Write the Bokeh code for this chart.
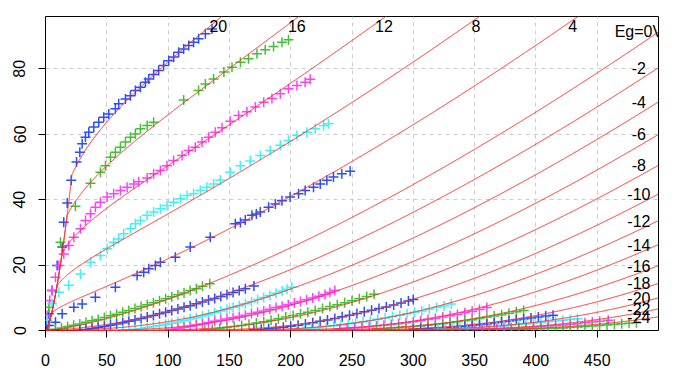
import math
import numpy as np
from bokeh.plotting import figure
from bokeh.models import Range1d, FixedTicker
from bokeh.core.properties import value
from bokeh.embed import file_html
from bokeh.resources import INLINE

# ---------------- axes ----------------
x_ticks = [0, 50, 100, 150, 200, 250, 300, 350, 400, 450]
y_ticks = [0, 20, 40, 60, 80]

# ---------------- model curves (grid voltages) ----------------
eg_curves = [20, 16, 12, 8, 4, 0, -2, -4, -6, -8, -10, -12, -14, -16, -18, -20, -22, -24]
# fitted triode-model parameters
MU, KP, KVB, EX, KA = 22.39, 115.0, 11000.0, 1.4, 1.178
KD, GC, GP = 0.475, 0.356, 0.4

top_labels = ["20", "16", "12", "8", "4"]
top_label_x = [141, 205, 276, 351, 430]
top_label_y = [93, 93, 93, 93, 93]
right_labels = ["Eg=0V", "-2", "-4", "-6", "-8", "-10", "-12", "-14", "-16", "-18", "-20", "-22", "-24"]
right_eg = [0, -2, -4, -6, -8, -10, -12, -14, -16, -18, -20, -22, -24]

# ---------------- measured points ----------------
ep_p20 = [0.8, 2.7, 5.4, 9.5, 13.6, 14.9, 17.7, 21.0, 25.3, 28.0, 29.9, 32.6, 35.3, 39.4, 43.4, 47.5, 51.6, 57.0, 59.7, 65.2, 69.3, 73.3, 77.4, 81.5, 84.2, 88.2, 92.3, 96.4, 100.5, 104.6, 108.6, 112.7, 116.8, 120.8, 124.9, 130.4, 135.8]
ip_p20 = [1.5, 5.1, 12.2, 19.9, 25.5, 33.1, 39.0, 45.9, 51.5, 54.5, 57.1, 59.1, 60.6, 62.2, 63.7, 65.2, 66.2, 67.8, 69.3, 70.8, 71.8, 73.4, 74.4, 75.9, 76.9, 78.3, 79.5, 81.0, 82.5, 83.6, 85.1, 86.1, 87.1, 88.1, 89.2, 90.7, 92.2]

ep_p16 = [2.7, 12.2, 24.4, 36.7, 44.8, 48.9, 53.0, 57.0, 61.1, 65.2, 69.3, 73.3, 77.4, 82.9, 88.2, 112.7, 124.9, 130.4, 137.1, 145.5, 152.1, 159.0, 165.6, 172.5, 179.2, 186.0, 192.9, 198.2]
ip_p16 = [7.1, 27.0, 38.0, 45.0, 48.4, 50.4, 53.0, 54.5, 56.0, 57.6, 59.1, 60.1, 61.7, 62.7, 63.7, 70.5, 73.4, 75.4, 76.9, 79.0, 80.5, 82.0, 83.1, 84.6, 85.8, 86.8, 88.1, 88.9]

ep_p12 = [1.4, 3.5, 5.5, 8.1, 10.9, 14.9, 19.0, 23.1, 28.5, 32.6, 36.7, 40.7, 44.8, 50.3, 55.6, 61.1, 66.6, 72.0, 76.0, 82.9, 88.2, 93.7, 99.1, 104.5, 111.4, 116.8, 122.2, 127.7, 133.1, 138.5, 144.0, 150.7, 157.5, 164.3, 171.2, 178.0, 184.7, 191.5, 198.2, 205.1, 211.8, 215.9]
ip_p12 = [4.6, 9.2, 12.2, 16.3, 19.9, 23.4, 26.0, 28.5, 31.1, 33.6, 35.7, 37.7, 39.2, 40.8, 41.8, 42.8, 43.8, 44.8, 45.5, 46.6, 47.9, 48.9, 50.4, 52.0, 53.5, 55.0, 56.0, 57.6, 59.1, 60.6, 62.0, 64.0, 65.7, 66.9, 68.3, 69.8, 70.9, 72.4, 73.9, 74.9, 75.9, 76.8]

ep_p8 = [1.4, 5.5, 10.9, 19.0, 28.5, 36.7, 44.8, 50.3, 55.6, 59.7, 63.8, 69.3, 73.3, 77.4, 82.9, 88.2, 93.7, 99.1, 104.5, 110.0, 115.5, 120.8, 126.3, 131.7, 137.1, 142.6, 150.7, 158.9, 167.0, 175.2, 183.3, 191.5, 198.2, 205.1, 213.2, 220.0, 226.8, 230.8]
ip_p8 = [3.1, 8.2, 11.7, 13.8, 17.3, 20.9, 22.9, 25.0, 27.0, 28.0, 29.6, 31.1, 32.6, 33.6, 35.2, 36.2, 37.2, 38.2, 39.2, 40.3, 41.3, 41.8, 42.8, 43.8, 44.8, 46.0, 48.4, 50.4, 51.8, 53.5, 55.0, 56.6, 58.1, 59.6, 60.6, 61.7, 62.7, 63.2]

ep_p4 = [2.7, 8.1, 13.6, 23.1, 29.9, 40.7, 57.0, 74.7, 80.1, 84.2, 89.6, 93.7, 105.9, 118.1, 134.4, 154.8, 159.0, 163.0, 168.4, 172.0, 175.2, 182.0, 187.5, 192.9, 199.5, 206.4, 211.8, 218.6, 224.1, 229.5, 234.9, 241.7, 248.5]
ip_p4 = [1.5, 2.5, 5.1, 7.1, 8.1, 10.2, 13.2, 16.8, 17.8, 18.9, 19.9, 20.9, 22.4, 25.5, 28.5, 32.6, 33.0, 33.8, 35.2, 35.6, 36.2, 37.7, 38.7, 39.7, 40.8, 41.8, 42.8, 43.8, 44.8, 45.9, 46.9, 47.9, 48.7]

ep_0 = [3, 8, 13, 18, 23, 28, 33, 38, 43, 48, 53, 58, 63, 68, 73, 78, 83, 88, 93, 98, 103, 108, 113, 118, 123, 128, 134]
ip_0 = [0.1, 0.4, 0.8, 1.2, 1.6, 2.0, 2.5, 3.0, 3.4, 4.0, 4.5, 5.0, 5.6, 6.1, 6.7, 7.3, 7.9, 8.5, 9.1, 9.7, 10.3, 10.9, 11.5, 12.2, 12.8, 13.5, 14.3]

ep_m2 = [28, 33, 38, 43, 48, 53, 58, 63, 68, 73, 78, 83, 88, 93, 98, 103, 108, 113, 118, 123, 128, 133, 138, 143, 148, 153, 158, 163, 170]
ip_m2 = [0.1, 0.3, 0.6, 0.9, 1.2, 1.6, 2.0, 2.4, 2.8, 3.2, 3.7, 4.1, 4.6, 5.1, 5.6, 6.1, 6.6, 7.1, 7.6, 8.2, 8.7, 9.3, 9.8, 10.4, 11.0, 11.6, 12.2, 12.8, 13.6]

ep_m4 = [63, 68, 73, 78, 83, 88, 93, 98, 103, 108, 113, 118, 123, 128, 133, 138, 143, 148, 153, 158, 163, 168, 173, 178, 183, 188, 193, 197, 201]
ip_m4 = [0.05, 0.2, 0.4, 0.6, 0.9, 1.2, 1.5, 1.9, 2.2, 2.6, 3.0, 3.5, 3.9, 4.4, 4.9, 5.4, 6.0, 6.5, 7.1, 7.6, 8.2, 8.8, 9.5, 10.1, 10.7, 11.4, 12.1, 12.6, 13.2]

ep_m6 = [98, 103, 108, 113, 118, 123, 128, 133, 138, 143, 148, 153, 158, 163, 168, 173, 178, 183, 188, 193, 198, 203, 208, 213, 218, 223, 228, 232, 236]
ip_m6 = [0.1, 0.4, 0.7, 1.0, 1.3, 1.7, 2.0, 2.4, 2.8, 3.1, 3.5, 3.9, 4.3, 4.7, 5.2, 5.6, 6.0, 6.5, 7.0, 7.4, 7.9, 8.4, 8.9, 9.4, 9.9, 10.5, 11.0, 11.6, 12.2]

ep_m8 = [130, 136, 142, 148, 154, 160, 166, 172, 178, 184, 190, 196, 202, 208, 214, 220, 226, 232, 238, 244, 250, 256, 262, 268]
ip_m8 = [0.2, 0.4, 0.6, 0.9, 1.2, 1.5, 1.9, 2.3, 2.7, 3.1, 3.6, 4.1, 4.6, 5.1, 5.6, 6.1, 6.7, 7.3, 7.9, 8.5, 9.1, 9.7, 10.4, 11.1]

ep_m10 = [170, 176, 182, 188, 194, 200, 206, 212, 218, 224, 230, 236, 242, 248, 254, 260, 266, 272, 278, 284, 290, 296, 300]
ip_m10 = [0.2, 0.4, 0.6, 0.8, 1.0, 1.3, 1.6, 2.0, 2.4, 2.8, 3.2, 3.7, 4.2, 4.7, 5.2, 5.7, 6.2, 6.7, 7.2, 7.8, 8.4, 9.0, 9.5]

ep_m12 = [205, 211, 217, 223, 229, 235, 241, 247, 253, 259, 265, 271, 277, 283, 289, 295, 301, 307, 313, 319, 325, 331]
ip_m12 = [0.4, 0.55, 0.75, 0.95, 1.2, 1.45, 1.75, 2.05, 2.35, 2.7, 3.05, 3.45, 3.85, 4.25, 4.7, 5.1, 5.55, 6.0, 6.5, 7.0, 7.5, 8.1]

ep_m14 = [240, 246, 252, 258, 264, 270, 276, 282, 288, 294, 300, 306, 312, 318, 324, 330, 336, 342, 348, 354, 360]
ip_m14 = [0.55, 0.65, 0.8, 0.95, 1.15, 1.35, 1.6, 1.85, 2.1, 2.4, 2.7, 3.0, 3.35, 3.7, 4.1, 4.5, 4.9, 5.4, 5.9, 6.4, 7.0]

ep_m16 = [270, 276, 282, 288, 294, 300, 306, 312, 318, 324, 330, 336, 342, 348, 354, 360, 366, 372, 378, 384, 390]
ip_m16 = [0.5, 0.6, 0.75, 0.9, 1.05, 1.2, 1.4, 1.6, 1.85, 2.1, 2.4, 2.7, 3.0, 3.3, 3.7, 4.05, 4.45, 4.85, 5.3, 5.7, 6.1]

ep_m18 = [300, 306, 312, 318, 324, 330, 336, 342, 348, 354, 360, 366, 372, 378, 384, 390, 396, 402, 408, 414]
ip_m18 = [0.4, 0.5, 0.6, 0.7, 0.8, 0.95, 1.1, 1.3, 1.5, 1.75, 2.0, 2.3, 2.6, 2.9, 3.2, 3.5, 3.8, 4.1, 4.4, 4.7]

ep_m20 = [320, 326, 332, 338, 344, 350, 356, 362, 368, 374, 380, 386, 392, 398, 404, 410, 416, 422, 428, 434]
ip_m20 = [0.4, 0.45, 0.5, 0.6, 0.7, 0.8, 0.95, 1.1, 1.25, 1.4, 1.6, 1.8, 2.0, 2.2, 2.4, 2.65, 2.9, 3.1, 3.35, 3.6]

ep_m22 = [350, 356, 362, 368, 374, 380, 386, 392, 398, 404, 410, 416, 422, 428, 434, 440, 446, 452, 459]
ip_m22 = [0.3, 0.35, 0.4, 0.5, 0.6, 0.7, 0.8, 0.95, 1.1, 1.25, 1.4, 1.55, 1.7, 1.9, 2.1, 2.35, 2.6, 2.85, 3.1]

ep_m24 = [380, 386, 392, 398, 404, 410, 416, 422, 428, 434, 440, 446, 452, 458, 464, 470, 476, 482]
ip_m24 = [0.3, 0.35, 0.4, 0.45, 0.5, 0.6, 0.7, 0.8, 0.9, 1.05, 1.2, 1.35, 1.5, 1.7, 1.9, 2.05, 2.2, 2.35]

BLUE, GREEN, MAGENTA, CYAN = "#2a4dff", "#45c035", "#ff40ff", "#40f2f2"
series = [
    (ep_p20, ip_p20, BLUE), (ep_p16, ip_p16, GREEN), (ep_p12, ip_p12, MAGENTA),
    (ep_p8, ip_p8, CYAN), (ep_p4, ip_p4, BLUE), (ep_0, ip_0, GREEN),
    (ep_m2, ip_m2, BLUE), (ep_m4, ip_m4, CYAN), (ep_m6, ip_m6, MAGENTA),
    (ep_m8, ip_m8, GREEN), (ep_m10, ip_m10, BLUE), (ep_m12, ip_m12, CYAN),
    (ep_m14, ip_m14, MAGENTA), (ep_m16, ip_m16, GREEN), (ep_m18, ip_m18, BLUE),
    (ep_m20, ip_m20, CYAN), (ep_m22, ip_m22, MAGENTA), (ep_m24, ip_m24, GREEN),
]


def plate_current(eg, ep):
    ep = np.asarray(ep, dtype=float)
    if eg > 0:
        eff = eg * (1.0 - GC * (eg / ep) ** GP)
        e1 = np.maximum(ep / MU + eff, 0.0)
        return np.minimum(KD * ep ** 1.5, KA * e1 ** EX)
    z = KP * (1.0 / MU + eg / np.sqrt(KVB + ep ** 2))
    e1 = ep / KP * np.logaddexp(0.0, z)
    return KA * e1 ** EX


p = figure(frame_width=613, frame_height=314,
           x_range=Range1d(0, 500), y_range=Range1d(0, 96),
           output_backend="svg", toolbar_location=None,
           min_border_left=45, min_border_right=14,
           min_border_top=16, min_border_bottom=46)
p.background_fill_color = "white"
p.border_fill_color = "white"
p.outline_line_color = "black"
p.outline_line_width = 1

p.xaxis.ticker = FixedTicker(ticks=x_ticks)
p.yaxis.ticker = FixedTicker(ticks=y_ticks)
for ax in (p.xaxis[0], p.yaxis[0]):
    ax.axis_line_color = None
    ax.major_tick_in = 0
    ax.major_tick_out = 7
    ax.major_tick_line_color = "black"
    ax.minor_tick_line_color = None
    ax.major_label_text_font = "Liberation Sans"
    ax.major_label_text_font_size = "16px"
    ax.major_label_text_color = "black"
p.yaxis.major_label_orientation = "vertical"
p.xaxis.major_label_standoff = 16
p.yaxis.major_label_standoff = 13

p.xgrid.grid_line_color = "#cccccc"
p.ygrid.grid_line_color = "#cccccc"
p.xgrid.grid_line_dash = "4 4"
p.ygrid.grid_line_dash = "4 4"

# measured points
for ep, ip, col in series:
    p.scatter(ep, ip, marker="cross", size=10, line_color=col, line_width=1.5)

# model curves
ep_grid = np.concatenate([np.linspace(0.001, 30, 600), np.linspace(30.5, 500, 940)])
xs, ys = [], []
for eg in eg_curves:
    xs.append(ep_grid)
    ys.append(plate_current(eg, ep_grid))
p.multi_line(xs, ys, line_color="#ff2a2a", line_width=1)

# labels
p.text(top_label_x, top_label_y, text=top_labels, text_align="center", text_baseline="middle",
       text_font=value("Liberation Sans"), text_font_size="16px", text_color="black")
right_y = [float(plate_current(eg, 500.0)) for eg in right_eg]
p.text([484] * len(right_labels), right_y, text=right_labels, text_align="center",
       text_baseline="middle", text_font=value("Liberation Sans"), text_font_size="16px",
       text_color="black")

open("out.html", "w").write(file_html(p, INLINE))
